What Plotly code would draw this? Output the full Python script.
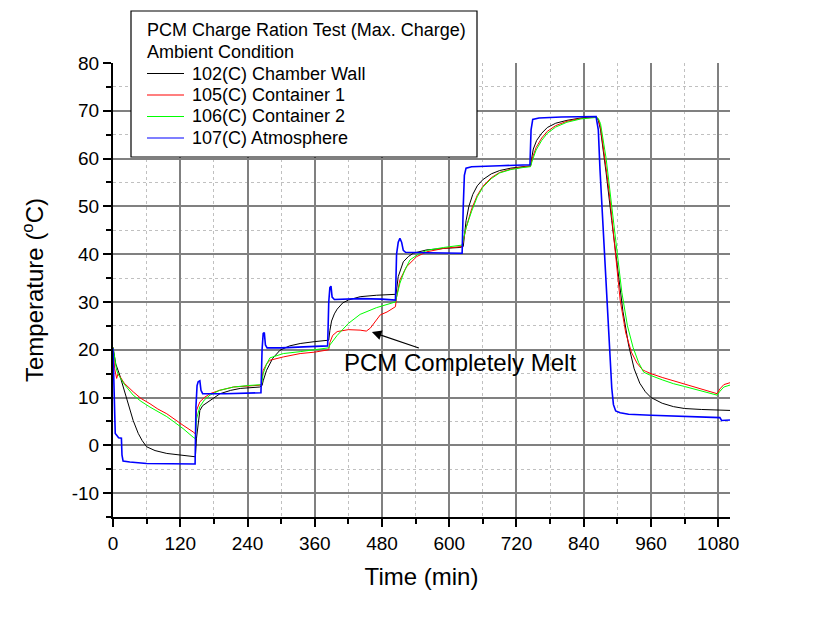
import plotly.graph_objects as go

# ---- data ----
t_wall = [0, 5, 12, 20, 28, 36, 45, 52, 60, 75, 96, 120, 147,
          149, 152, 155, 160, 173, 191, 210, 227, 262, 266,
          268, 274, 285, 298, 315, 334, 360, 385,
          387, 390, 395, 400, 410, 420, 441, 470, 505,
          507, 509, 518, 527, 536, 560, 590, 619, 625,
          627, 630, 635, 642, 650, 660, 675, 690, 710, 730, 745,
          747, 750, 756, 765, 775, 790, 810, 835, 862,
          866, 870, 875, 880, 890, 900, 910, 920, 930, 940, 950, 960, 980, 1000, 1020, 1050, 1101]
temp_wall = [20.5, 17, 14.7, 11.5, 8, 5.2, 2.5, 1, -0.3, -1.1, -1.7, -2.1, -2.4,
             1.5, 5, 7.3, 8.3, 9.4, 10.8, 11.5, 11.9, 12.2, 12.5,
             13.5, 15.7, 18.2, 19.9, 20.8, 21.3, 21.7, 22,
             24, 26, 27.5, 28.5, 29.8, 30.4, 31.1, 31.4, 31.6,
             33, 35.3, 38.4, 39.5, 40.2, 40.9, 41.2, 41.4, 41.6,
             44, 47, 50, 52.5, 54.3, 55.6, 56.8, 57.5, 58, 58.3, 58.5,
             60, 62, 63.8, 65.3, 66.5, 67.4, 68, 68.5, 68.8,
             68, 66, 62, 57, 47, 37, 28, 21, 16, 13, 11.2, 10, 8.8, 8.1, 7.7, 7.5, 7.3]

t_cont1 = [0, 3, 6.5, 9, 12, 20, 36, 50, 66, 80, 96, 110, 125, 143, 147,
           149, 152, 155, 163, 173, 190, 215, 240, 262, 265,
           266, 268, 274, 280, 304, 334, 360, 385,
           387, 392, 400, 420, 441, 452, 459, 465, 477, 489, 504,
           506, 512, 524, 542, 560, 590, 623,
           626, 630, 640, 650, 660, 675, 690, 710, 730, 745,
           748, 755, 765, 775, 790, 810, 835, 862,
           866, 870, 880, 887, 895, 905, 915, 925, 935, 945, 950, 960, 980, 1000, 1020, 1048, 1078, 1083, 1090, 1101]
temp_cont1 = [20.5, 16, 14, 15, 14.5, 13, 11.2, 9.8, 8.7, 7.6, 6.6, 5.4, 4.2, 2.8, 2.4,
              7.3, 8.3, 9.1, 10, 10.8, 11.5, 12.2, 12.4, 12.5, 12.6,
              14, 15.7, 17, 17.8, 18.5, 19.2, 19.5, 20,
              21.5, 23, 23.8, 24.2, 24.1, 23.9, 24.5, 25.5, 27.3, 27.9, 29,
              31, 34.6, 37.4, 39.5, 40.5, 41.2, 41.6,
              43, 45.5, 49.5, 52.3, 54.2, 56, 57.1, 57.8, 58.2, 58.4,
              60, 62.3, 64.3, 65.7, 66.9, 67.8, 68.4, 68.7,
              68.3, 66.5, 58, 51.4, 42, 30.4, 23.5, 19.5, 17.2, 15.8, 15.5, 15, 14.2, 13.5, 12.8, 11.7, 10.8, 11.8, 12.7, 13.1]

t_cont2 = [0, 3, 6.5, 10, 15, 20, 36, 50, 66, 80, 96, 110, 125, 143, 147,
           149, 152, 155, 163, 173, 190, 215, 240, 262, 265,
           268, 274, 280, 304, 334, 360, 385,
           387, 395, 400, 420, 441, 470, 504,
           506, 512, 520, 530, 545, 560, 590, 623,
           626, 630, 640, 650, 660, 675, 690, 710, 730, 745,
           748, 755, 765, 775, 790, 810, 835, 862,
           866, 870, 880, 890, 900, 908, 918, 928, 938, 947, 960, 980, 1000, 1020, 1048, 1078, 1083, 1090, 1101]
temp_cont2 = [20.5, 18, 15.7, 14.7, 13.8, 12.8, 10.5, 9.2, 8, 7, 6, 4.8, 3.5, 1.7, 1.4,
              5.5, 7, 8.1, 9.5, 10.5, 11.5, 12.2, 12.5, 12.6, 12.7,
              15, 17, 18.3, 19.2, 19.6, 20, 20.4,
              21, 22.3, 23, 25.5, 27.4, 28.8, 30,
              31, 33.9, 36.5, 38.8, 40, 40.8, 41.4, 41.9,
              43.5, 45.5, 49, 52, 54, 55.8, 57, 57.7, 58.1, 58.3,
              59.5, 61.8, 63.8, 65.3, 66.6, 67.6, 68.3, 68.6,
              68.4, 67.3, 60, 50.5, 40, 32, 25, 20.5, 17.3, 15.3, 14.6, 13.7, 12.9, 12.3, 11.4, 10.5, 11.3, 12.2, 12.6]

t_atmos = [0, 2, 4, 6.6, 10, 15, 16, 18, 30, 60, 100, 143, 146.5,
           148, 150, 152, 155, 157, 160, 200, 240, 264,
           266, 268, 270, 272, 275, 300, 340, 383,
           385, 387, 389, 391, 395, 440, 480, 504,
           506, 509, 512, 515, 518, 522, 560, 600, 623,
           625, 627, 630, 640, 690, 744,
           746, 749, 760, 800, 862,
           866, 869, 875, 881, 886, 890, 893, 897, 905, 920, 960, 1000, 1040, 1083, 1086, 1101]
temp_atmos = [20.3, 10, 2.5, 2.1, 1.6, 1.5, -2, -3.3, -3.5, -3.8, -3.9, -4.0, -3.9,
              8, 12.5, 13.3, 13.5, 11.5, 10.8, 10.8, 10.9, 11,
              20, 23.4, 23.6, 21, 20.4, 20.4, 20.6, 20.8,
              30, 33, 33.3, 31, 30.5, 30.7, 30.6, 30.4,
              40, 42.5, 43.3, 42.5, 40.8, 40.4, 40.3, 40.3, 40.2,
              50, 56.5, 58, 58.3, 58.5, 58.7,
              66, 68.2, 68.5, 68.7, 68.8,
              66, 57.7, 45, 30.4, 20, 12, 8.5, 7.2, 6.8, 6.5, 6.3, 6.1, 5.9, 5.8, 5.2, 5.3]

names = ["102(C) Chamber Wall", "105(C) Container 1", "106(C) Container 2", "107(C) Atmosphere"]
colors = ["#000000", "#ff0000", "#00ff00", "#0000ff"]
widths = [1, 1, 1, 1.6]
legend_title = ["PCM Charge Ration Test (Max. Charge)", "Ambient Condition"]
x_ticks = [0, 120, 240, 360, 480, 600, 720, 840, 960, 1080]
y_ticks = [-10, 0, 10, 20, 30, 40, 50, 60, 70, 80]

FONT = "Arial, Liberation Sans, sans-serif"

fig = go.Figure()
for t, v, n, c, w in zip([t_wall, t_cont1, t_cont2, t_atmos],
                         [temp_wall, temp_cont1, temp_cont2, temp_atmos],
                         names, colors, widths):
    fig.add_trace(go.Scatter(x=t, y=v, mode="lines", name=n,
                             line=dict(color=c, width=w)))

axis_common = dict(
    showline=True, linecolor="black", linewidth=2,
    ticks="outside", ticklen=8, tickwidth=2, tickcolor="black",
    showgrid=True, gridcolor="#808080", gridwidth=1.5,
    zeroline=False,
    tickfont=dict(family=FONT, size=19, color="black"),
)

fig.update_xaxes(
    range=[0, 1101], tickvals=x_ticks, ticktext=[str(v) for v in x_ticks],
    minor=dict(dtick=60, tick0=0, ticklen=5, tickwidth=1.5, tickcolor="black",
               showgrid=True, gridcolor="#c0c0c0", gridwidth=1, griddash="3px,3px"),
    title=dict(text="Time (min)", font=dict(family=FONT, size=24, color="black"), standoff=15),
    **axis_common,
)
fig.update_yaxes(
    range=[-15, 80], tickvals=y_ticks, ticktext=[str(v) for v in y_ticks],
    minor=dict(dtick=5, tick0=0, ticklen=5, tickwidth=1.5, tickcolor="black",
               showgrid=True, gridcolor="#c0c0c0", gridwidth=1, griddash="3px,3px"),
    title=dict(text="Temperature (<sup>o</sup>C)", font=dict(family=FONT, size=24, color="black"), standoff=21),
    **axis_common,
)

# hide the grid line on the top boundary (as in the reference)
fig.add_shape(type="line", xref="paper", yref="y", x0=0.004, x1=1, y0=80, y1=80,
              line=dict(color="white", width=3), layer="below")

# ---- legend box (drawn in paper coordinates) ----
PW, PH, PL, PB = 617.0, 454.0, 113.0, 517.0
def px(x):
    return (x - PL) / PW
def py(y):
    return (PB - y) / PH

fig.add_shape(type="rect", xref="paper", yref="paper",
              x0=px(131), x1=px(477), y0=py(157), y1=py(11),
              fillcolor="white", line=dict(color="black", width=1.2), layer="above")
row_y = [30, 52, 73.5, 95, 116.5, 138]
for i, txt in enumerate(legend_title):
    fig.add_annotation(xref="paper", yref="paper", x=px(145), y=py(row_y[i]),
                       xanchor="left", yanchor="middle", text=txt, showarrow=False,
                       font=dict(family=FONT, size=18, color="black"))
for i, (n, c) in enumerate(zip(names, colors)):
    yy = py(row_y[i + 2])
    fig.add_shape(type="line", xref="paper", yref="paper", x0=px(147), x1=px(184),
                  y0=yy, y1=yy, line=dict(color=c, width=1.2), layer="above")
    fig.add_annotation(xref="paper", yref="paper", x=px(190), y=yy,
                       xanchor="left", yanchor="middle", text=n, showarrow=False,
                       font=dict(family=FONT, size=18, color="black"))

# annotation: text centred below-right, arrow pointing at the red curve
fig.add_annotation(x=462, y=23.7, ax=88, ay=30, text="PCM Completely Melt",
                   showarrow=True, arrowhead=2, arrowsize=1.6, arrowwidth=1.2,
                   arrowcolor="black", borderpad=0,
                   font=dict(family=FONT, size=24, color="black"))

fig.update_layout(
    width=836, height=621,
    margin=dict(l=113, r=106, t=63, b=104),
    paper_bgcolor="white", plot_bgcolor="white",
    font=dict(family=FONT, color="black"),
    showlegend=False,
)

fig.write_html("out.html")
